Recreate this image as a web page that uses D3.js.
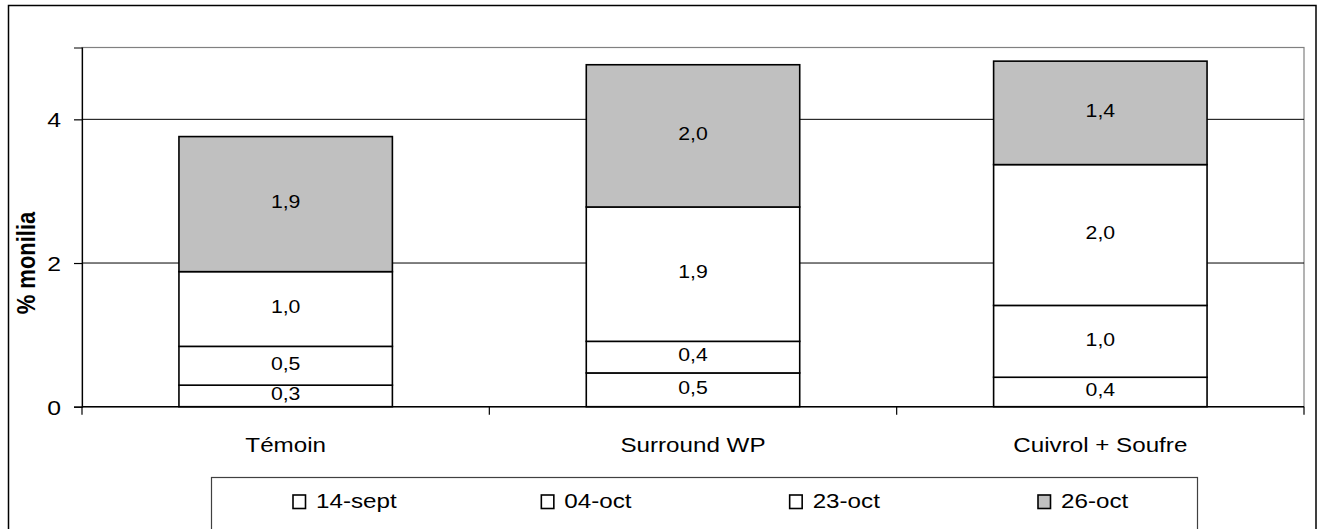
<!DOCTYPE html>
<html>
<head>
<meta charset="utf-8">
<script src="https://cdn.jsdelivr.net/npm/d3@7/dist/d3.min.js"></script>
<style>
  html, body { margin: 0; padding: 0; background: #fff; }
  svg { display: block; }
  text { font-family: "Liberation Sans", Arial, sans-serif; fill: #000; }
</style>
</head>
<body>
<svg id="chart" width="1324" height="529"></svg>
<script>
const categories = ["Témoin", "Surround WP", "Cuivrol + Soufre"];
const seriesNames = ["14-sept", "04-oct", "23-oct", "26-oct"];
const sept14 = [0.30, 0.47, 0.41];
const oct04  = [0.54, 0.44, 1.00];
const oct23  = [1.04, 1.87, 1.96];
const oct26  = [1.88, 1.98, 1.44];
const seriesColors = ["#ffffff", "#ffffff", "#ffffff", "#c0c0c0"];
const yTicks = [0, 2, 4];
const yMax = 5;
const yTitle = "% monilia";

const SX = 1.18; // horizontal stretch of glyphs in the reference

const svg = d3.select("#chart");
const plot = { left: 82, right: 1304, top: 47.5, bottom: 406.7 };

// outer chart border
svg.append("rect")
  .attr("x", 8.5).attr("y", 5.5)
  .attr("width", 1316 - 8.5).attr("height", 560)
  .attr("fill", "#fff").attr("stroke", "#000").attr("stroke-width", 1.5);

const x = d3.scaleBand()
  .domain(categories)
  .range([plot.left, plot.right])
  .paddingInner(0.476)
  .paddingOuter(0.238);

const y = d3.scaleLinear().domain([0, yMax]).range([plot.bottom, plot.top]);

// plot area border (gray top/right)
svg.append("rect")
  .attr("x", plot.left).attr("y", y(yMax))
  .attr("width", plot.right - plot.left).attr("height", y(0) - y(yMax))
  .attr("fill", "none").attr("stroke", "#808080").attr("stroke-width", 1.2);

// gridlines
svg.append("g").selectAll("line")
  .data(yTicks.filter(t => t > 0))
  .join("line")
  .attr("x1", plot.left).attr("x2", plot.right)
  .attr("y1", d => y(d)).attr("y2", d => y(d))
  .attr("stroke", "#000").attr("stroke-width", 1);

// stacked data
const table = categories.map((c, i) => ({
  cat: c, "14-sept": sept14[i], "04-oct": oct04[i], "23-oct": oct23[i], "26-oct": oct26[i]
}));
const stacked = d3.stack().keys(seriesNames)(table);
const fmt = v => d3.format(".1f")(v).replace(".", ",");

const barsG = svg.append("g");
stacked.forEach((layer, li) => {
  barsG.append("g").selectAll("rect")
    .data(layer)
    .join("rect")
    .attr("x", d => x(d.data.cat))
    .attr("width", x.bandwidth())
    .attr("y", d => y(d[1]))
    .attr("height", d => y(d[0]) - y(d[1]))
    .attr("fill", seriesColors[li])
    .attr("stroke", "#000").attr("stroke-width", 1.6);
});

// data labels
stacked.forEach((layer, li) => {
  svg.append("g").selectAll("text")
    .data(layer)
    .join("text")
    .attr("transform", d => `translate(${x(d.data.cat) + x.bandwidth() / 2},${(y(d[0]) + y(d[1])) / 2}) scale(${SX},1)`)
    .attr("text-anchor", "middle")
    .attr("dy", "0.24em")
    .attr("font-size", 18)
    .text(d => fmt(d[1] - d[0]));
});

// y axis
const yAxis = d3.axisLeft(y).tickValues(yTicks).tickSize(8).tickPadding(0).tickFormat(d3.format("d"));
const yg = svg.append("g").attr("transform", `translate(${plot.left},0)`).call(yAxis);
yg.select(".domain").attr("stroke", "#000").attr("stroke-width", 1.2);
yg.selectAll(".tick line").attr("stroke", "#000").attr("stroke-width", 1.2);
yg.selectAll(".tick text").remove();
yg.selectAll(".tick").append("text")
  .attr("transform", `translate(-21,0) scale(${SX},1)`)
  .attr("text-anchor", "end")
  .attr("dy", "0.36em")
  .attr("font-size", 21)
  .attr("font-family", "Liberation Sans, Arial, sans-serif")
  .attr("fill", "#000")
  .text(d => d);

// x axis line
svg.append("line")
  .attr("x1", plot.left).attr("x2", plot.right)
  .attr("y1", y(0)).attr("y2", y(0))
  .attr("stroke", "#000").attr("stroke-width", 1.6);

// x ticks at category boundaries
const bounds = d3.range(categories.length + 1).map(i => plot.left + i * x.step());
svg.append("g").selectAll("line")
  .data(bounds)
  .join("line")
  .attr("x1", d => d).attr("x2", d => d)
  .attr("y1", y(0)).attr("y2", y(0) + 8)
  .attr("stroke", "#000").attr("stroke-width", 1.2);

// category labels
svg.append("g").selectAll("text")
  .data(categories)
  .join("text")
  .attr("transform", d => `translate(${x(d) + x.bandwidth() / 2},451.5) scale(${SX},1)`)
  .attr("text-anchor", "middle")
  .attr("font-size", 20.5)
  .text(d => d);

// y title
svg.append("text")
  .attr("transform", `translate(35,263) rotate(-90) scale(1,${SX})`)
  .attr("text-anchor", "middle")
  .attr("font-size", 22)
  .attr("font-weight", "bold")
  .text(yTitle);

// legend
svg.append("rect")
  .attr("x", 211.5).attr("y", 477.5)
  .attr("width", 1197.5 - 211.5).attr("height", 80)
  .attr("fill", "#fff").attr("stroke", "#404040").attr("stroke-width", 1.2);

const legendX = d3.scalePoint().domain(seriesNames).range([292, 1037]);
const lg = svg.append("g").selectAll("g")
  .data(seriesNames)
  .join("g")
  .attr("transform", d => `translate(${legendX(d)},0)`);
lg.append("rect")
  .attr("x", 1).attr("y", 495)
  .attr("width", 12.5).attr("height", 13.5)
  .attr("fill", (d, i) => seriesColors[i])
  .attr("stroke", "#000").attr("stroke-width", 1.6);
lg.append("text")
  .attr("transform", `translate(24,508) scale(${SX},1)`)
  .attr("font-size", 20.5)
  .text(d => d);
</script>
</body>
</html>
